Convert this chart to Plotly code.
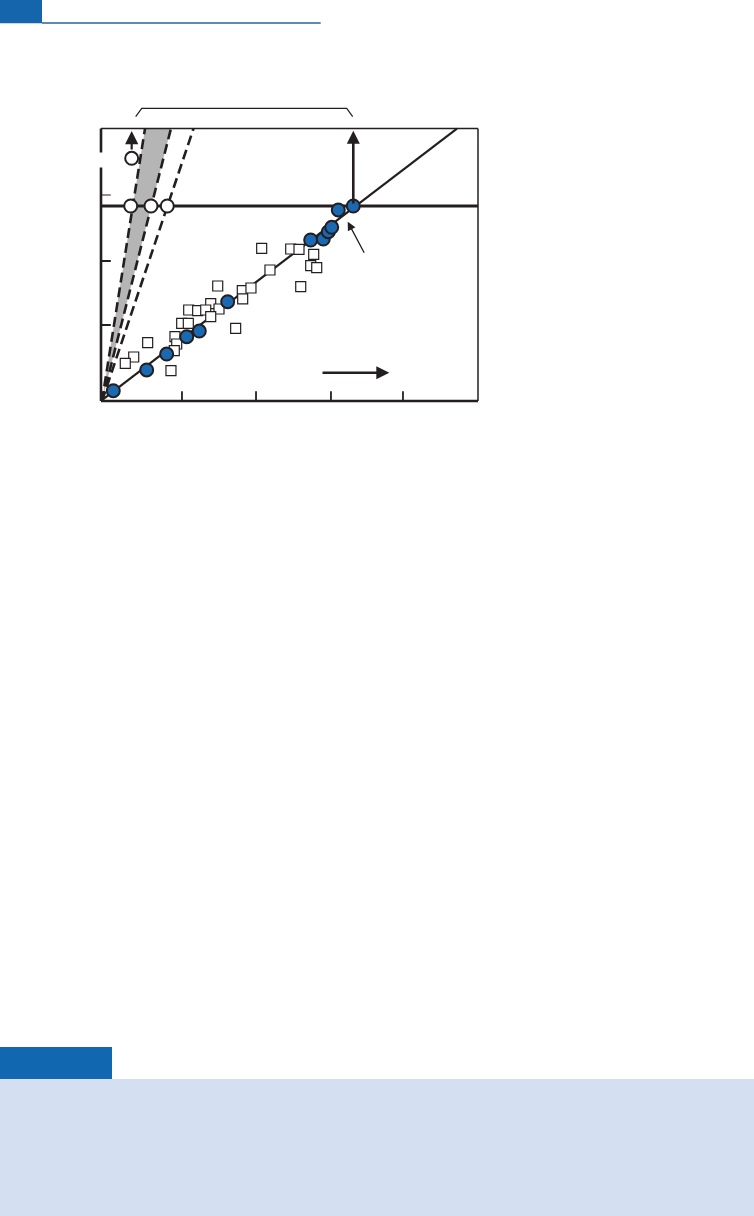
import plotly.graph_objects as go

# ---- data (plot units: x 0..5, y 0..5 inside the frame) ----
# measured points on the fitted line
meas_x = [0.163, 0.606, 0.871, 1.137, 1.304, 1.680, 2.781, 2.948, 3.015, 3.060, 3.147, 3.346]
meas_y = [0.189, 0.569, 0.862, 1.180, 1.284, 1.822, 2.954, 2.972, 3.106, 3.187, 3.505, 3.578]

# scattered reference samples
ref_x = [2.131, 2.516, 2.626, 2.241, 1.548, 1.874, 1.989, 1.879, 1.455, 1.565, 1.163, 1.282,
         1.389, 1.455, 1.070, 1.158, 1.786, 0.981, 1.004, 0.972, 0.619, 0.434, 0.322, 0.928,
         2.821, 2.781, 2.861, 2.649]
ref_y = [2.802, 2.789, 2.783, 2.404, 2.110, 2.024, 2.073, 1.872, 1.785, 1.688, 1.670, 1.657,
         1.670, 1.547, 1.426, 1.426, 1.334, 1.180, 1.046, 0.923, 1.070, 0.807, 0.692, 0.556,
         2.692, 2.483, 2.446, 2.097]

# open markers on the threshold level and the one above it
open_x = [0.394, 0.663, 0.879, 0.407]
open_y = [3.578, 3.578, 3.578, 4.453]

threshold_y = 3.578
fit_x = [0.013, 4.721]
fit_y = [0.018, 5.0]

# dashed bounds, all starting at the origin; x where each reaches the top
origin = (0.013, 0.0)
band_top = [0.584, 0.928]
outer_top = 1.227

x_ticks = [1.074, 2.056, 3.050, 4.005]
y_ticks = [1.394, 2.569, 3.780]

INK = "#231f20"
BLUE = "#1a69b3"

fig = go.Figure()

# shaded band between the two inner dashed lines
fig.add_trace(go.Scatter(
    x=[origin[0], band_top[0], band_top[1], origin[0]],
    y=[origin[1], 5.0, 5.0, origin[1]],
    fill="toself", fillcolor="#b5b5b5", mode="none", hoverinfo="skip"))

for xt in band_top + [outer_top]:
    fig.add_trace(go.Scatter(
        x=[origin[0], xt], y=[origin[1], 5.0], mode="lines",
        line=dict(color=INK, width=2.6, dash="10px,5px")))

# threshold level
fig.add_trace(go.Scatter(x=[0.0, 5.0], y=[threshold_y, threshold_y], mode="lines",
                         line=dict(color=INK, width=3)))

# fitted line
fig.add_trace(go.Scatter(x=fit_x, y=fit_y, mode="lines", line=dict(color=INK, width=2.2)))

fig.add_trace(go.Scatter(
    x=ref_x, y=ref_y, mode="markers",
    marker=dict(symbol="square", size=10, color="white", line=dict(color=INK, width=1.2))))

fig.add_trace(go.Scatter(
    x=meas_x, y=meas_y, mode="markers",
    marker=dict(symbol="circle", size=13, color=BLUE, line=dict(color=INK, width=2))))

fig.add_trace(go.Scatter(
    x=open_x, y=open_y, mode="markers",
    marker=dict(symbol="circle", size=13, color="white", line=dict(color=INK, width=2))))

# frame: heavy left/bottom (left one broken near the top), light top/right
frame = [
    (0, 0, 5, 0, 2.6),
    (0, 0, 0, 4.286, 2.6),
    (0, 4.560, 0, 5.0, 2.6),
    (0, 5.0, 5.0, 5.0, 1.5),
    (5.0, 0, 5.0, 5.0, 1.5),
]
for x0, y0, x1, y1, w in frame:
    fig.add_shape(type="line", x0=x0, y0=y0, x1=x1, y1=y1, xref="x", yref="y",
                  line=dict(color=INK, width=w))

# inward ticks
for xv in x_ticks:
    fig.add_shape(type="line", x0=xv, x1=xv, y0=0, y1=0.18, xref="x", yref="y",
                  line=dict(color=INK, width=1.8))
for i, yv in enumerate(y_ticks):
    fig.add_shape(type="line", x0=0, x1=0.13, y0=yv, y1=yv, xref="x", yref="y",
                  line=dict(color=INK, width=1.2 if i == 2 else 2))

# bracket above the frame
fig.add_shape(type="path", xref="x", yref="y",
              path="M 0.460 5.217 L 0.540 5.371 L 3.259 5.371 L 3.338 5.217",
              line=dict(color=INK, width=1.2))


def arrow(x0, y0, x1, y1, width, size):
    fig.add_annotation(x=x1, y=y1, ax=x0, ay=y0, xref="x", yref="y", axref="x", ayref="y",
                       text="", showarrow=True, arrowhead=2, arrowsize=size,
                       arrowwidth=width, arrowcolor=INK)


arrow(3.346, 3.596, 3.346, 4.96, 2.6, 1.0)
arrow(0.407, 4.587, 0.407, 4.954, 2.2, 1.2)
arrow(3.501, 2.692, 3.272, 3.290, 1.3, 1.3)
arrow(2.918, 0.519, 3.824, 0.519, 2.6, 1.0)

# page decorations: header tab and rule, footer tab and panel
deco = [
    ("rect", 0.0, 0.98084, 0.0557, 1.0, "#1565ad"),
    ("rect", 0.0, 0.11266, 0.14854, 0.13898, "#1167b0"),
    ("rect", 0.0, 0.0, 1.0, 0.11266, "#d4dff1"),
]
for kind, x0, y0, x1, y1, col in deco:
    fig.add_shape(type=kind, xref="paper", yref="paper", x0=x0, y0=y0, x1=x1, y1=y1,
                  fillcolor=col, line=dict(width=0), layer="below")
fig.add_shape(type="line", xref="paper", yref="paper", x0=0.0557, x1=0.42533,
              y0=0.98109, y1=0.98109, line=dict(color="#2b6296", width=1.3))

fig.update_layout(
    width=754, height=1216, margin=dict(l=0, r=0, t=0, b=0),
    paper_bgcolor="white", plot_bgcolor="rgba(0,0,0,0)", showlegend=False,
    xaxis=dict(range=[-0.1, 5.1], domain=[0.12395, 0.64395], visible=False),
    yaxis=dict(range=[-0.1, 5.65], domain=[0.66575, 0.92346], visible=False),
)

fig.write_html("out.html")
